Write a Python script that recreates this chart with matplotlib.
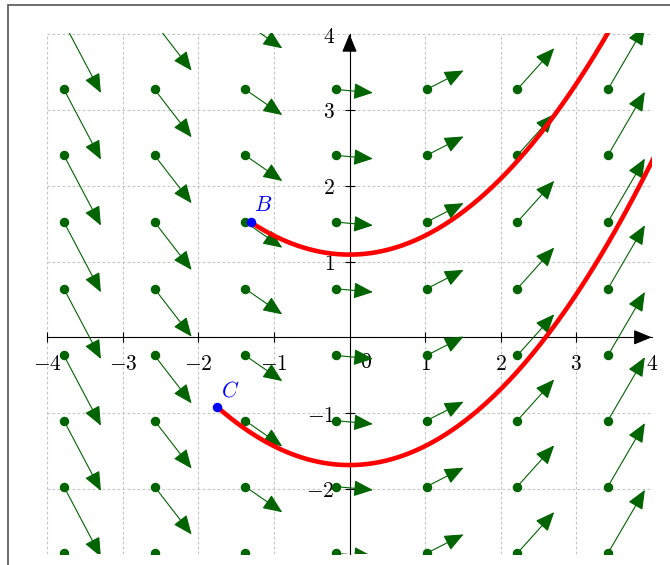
import numpy as np
import matplotlib
matplotlib.use("Agg")
import matplotlib.pyplot as plt
from matplotlib.patches import FancyArrowPatch, Rectangle

plt.rcParams["mathtext.fontset"] = "cm"
plt.rcParams["font.family"] = "DejaVu Serif"

# Direction field dy/dx = x/2 sampled on a regular lattice
field_x = [-3.78, -2.58, -1.38, -0.18, 1.02, 2.22, 3.42]
field_y = [-2.85, -1.97, -1.10, -0.24, 0.64, 1.52, 2.40, 3.27, 4.15]
arrow_dx = 0.49

# Initial points of the two solution curves
point_B = (-1.31, 1.52)
point_C = (-1.75, -0.92)

x_ticks = [-4, -3, -2, -1, 1, 2, 3, 4]
y_ticks = [-2, -1, 1, 2, 3, 4]

GREEN = "#006400"
DPI = 100
W, H = 670, 565

fig = plt.figure(figsize=(W / DPI, H / DPI), dpi=DPI)

xmin, xmax = -4.0, 4.0
ymin, ymax = -2.855, 4.02
ax_left_px, ax_right_px = 47.3, 651.7
ax_top_px = 337.3 - ymax * 75.8
ax_bot_px = 337.3 - ymin * 75.8
ax = fig.add_axes([ax_left_px / W, 1 - ax_bot_px / H,
                   (ax_right_px - ax_left_px) / W, (ax_bot_px - ax_top_px) / H])
ax.set_xlim(xmin, xmax)
ax.set_ylim(ymin, ymax)

# outer frame
fig.add_artist(Rectangle((8.3 / W, -0.1), 1.2, 1 - 4.5 / H + 0.1,
                         transform=fig.transFigure, fill=False,
                         edgecolor="#555555", lw=1.2, clip_on=False))

# dashed grid
for gx in range(-4, 5):
    ax.plot([gx, gx], [ymin, 4], color="#c4c4c4", lw=0.8,
            ls=(0, (2.5, 2.0)), zorder=1)
for gy in range(-2, 5):
    ax.plot([-4, 4], [gy, gy], color="#c4c4c4", lw=0.8,
            ls=(0, (2.5, 2.0)), zorder=1)

# axes lines through origin
for s in ["top", "right"]:
    ax.spines[s].set_visible(False)
ax.spines["left"].set_position(("data", 0))
ax.spines["bottom"].set_position(("data", 0))
ax.spines["left"].set_bounds(ymin, 4)
ax.spines["bottom"].set_bounds(-4, 4)
for s in ["left", "bottom"]:
    ax.spines[s].set_linewidth(0.8)
    ax.spines[s].set_zorder(2)
ax.set_xticks(x_ticks)
ax.set_yticks(y_ticks)
ax.set_xticklabels([f"${t}$" for t in x_ticks])
ax.set_yticklabels([f"${t}$" for t in y_ticks])
ax.tick_params(axis="both", direction="inout", length=7, width=0.8,
               labelsize=15.5, colors="black")
ax.tick_params(axis="x", pad=8)
ax.tick_params(axis="y", pad=7)
# the arrowheads sit where the last ticks would be drawn
ax.yaxis.get_major_ticks()[-1].tick1line.set_visible(False)
ax.xaxis.get_major_ticks()[-1].tick1line.set_visible(False)
ax.text(0.22, -0.33, "$0$", fontsize=15.5, ha="center", va="center", zorder=2)

# axis arrowheads
for tip, tail in [((4, 0), (3.8, 0)), ((0, 4), (0, 3.8))]:
    ax.annotate("", xy=tip, xytext=tail,
                arrowprops=dict(arrowstyle="-|>,head_length=0.8,head_width=0.33",
                                mutation_scale=14, color="black", lw=0.8,
                                shrinkA=0, shrinkB=0),
                annotation_clip=False, zorder=3)

# direction field arrows
for fx in field_x:
    for fy in field_y:
        tip = (fx + arrow_dx, fy + arrow_dx * fx / 2)
        arr = FancyArrowPatch((fx, fy), tip,
                              arrowstyle="-|>,head_length=0.85,head_width=0.36",
                              mutation_scale=14, color=GREEN, lw=0.8,
                              shrinkA=0, shrinkB=0, zorder=4)
        ax.add_patch(arr)
        ax.plot(fx, fy, "o", color=GREEN, ms=5.8, zorder=4)

# solution curves through B and C
for (px, py) in [point_B, point_C]:
    xs = np.linspace(px, 4.2, 300)
    ys = (xs ** 2 - px ** 2) / 4 + py
    ax.plot(xs, ys, color="#ff0000", lw=3.3, zorder=5, solid_capstyle="butt")

for (px, py), name in [(point_B, "B"), (point_C, "C")]:
    ax.plot(px, py, "o", color="#0000ff", ms=5.8, zorder=6)
    ax.annotate(f"${name}$", (px, py), xytext=(9, 12), textcoords="offset points",
                color="#0000ff", fontsize=15.5, ha="center", va="center", zorder=6)

fig.savefig("out.png", dpi=DPI)
